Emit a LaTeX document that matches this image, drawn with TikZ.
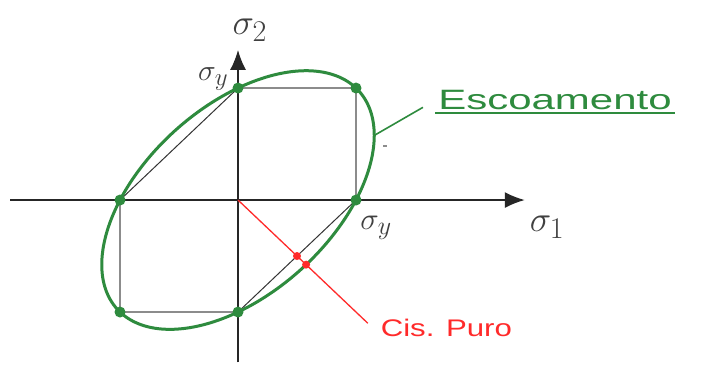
\documentclass[tikz,border=0pt]{standalone}
\usepackage{fontspec}
\setsansfont{Liberation Sans}
\usepackage{tikz}
\usetikzlibrary{positioning,arrows.meta}
\definecolor{yieldgreen}{HTML}{2E8B3E}
\definecolor{shearred}{HTML}{FF2A2A}
\definecolor{boxgray}{HTML}{8C8C8C}

\begin{document}
\begin{tikzpicture}[
    x=118pt, y=112pt,
    axis/.style={-{Latex[length=20pt,width=16pt]}, line width=1.5pt, draw=black!85},
    vtx/.style={circle, fill=yieldgreen, inner sep=0pt, minimum size=11pt},
    rdot/.style={circle, fill=shearred, inner sep=0pt, minimum size=8pt},
    sqedge/.style={draw=boxgray, line width=1.6pt},
    diag/.style={draw=black!80, line width=1pt},
    siglbl/.style={font=\Huge, text=black!75},
    smlbl/.style={font=\Huge, text=black!75}
]
    \path[fill=white] (-2.017,-1.482) rectangle (3.966,1.786);
    \useasboundingbox (-2.017,-1.482) rectangle (3.966,1.786);

    % axes
    \coordinate (xneg) at (-1.93,0);
    \coordinate (xpos) at (2.43,0);
    \coordinate (yneg) at (0,-1.45);
    \coordinate (ypos) at (0,1.34);
    \coordinate (orig) at (0,0);

    % hexagon vertices
    \coordinate (v1) at (1,0);
    \coordinate (v2) at (1,1);
    \coordinate (v3) at (0,1);
    \coordinate (v4) at (-1,0);
    \coordinate (v5) at (-1,-1);
    \coordinate (v6) at (0,-1);

    \draw[sqedge] (v3) -- (v2) -- (v1);
    \draw[sqedge] (v4) -- (v5) -- (v6);
    \draw[diag] (v4) -- (v3);
    \draw[diag] (v6) -- (v1);

    \draw[axis] (xneg) -- (xpos);
    \draw[axis] (yneg) -- (ypos);

    \node[siglbl] (s2) at (0.10,1.52) {\scalebox{1.45}{$\sigma_2$}};
    \node[siglbl] (s1) at (2.62,-0.24) {\scalebox{1.45}{$\sigma_1$}};
    \node[smlbl] (sy) at (1.17,-0.25) {\scalebox{1.25}{$\sigma_y$}};
    \node[smlbl] (sy2) at (-0.21,1.08) {\scalebox{1.2}{$\sigma_y$}};

    % von Mises ellipse
    \draw[yieldgreen, line width=3pt, smooth, samples=120, domain=0:360, variable=\t]
        plot ({cos(\t)-sin(\t)/sqrt(3)}, {cos(\t)+sin(\t)/sqrt(3)});

    \node[vtx] (d1) at (v1) {};
    \node[vtx] (d2) at (v2) {};
    \node[vtx] (d3) at (v3) {};
    \node[vtx] (d4) at (v4) {};
    \node[vtx] (d5) at (v5) {};
    \node[vtx] (d6) at (v6) {};

    % label escoamento
    \coordinate (yieldpt) at (1.155,0.577);
    \node[anchor=west, inner sep=3pt, text=yieldgreen, font=\sffamily\fontsize{28}{30}\selectfont] (esc) at (1.67,0.89) {\scalebox{1.5}[1]{Escoamento}};
    \draw[yieldgreen, line width=1.8pt] (esc.south west) -- (esc.south east);
    \draw[yieldgreen, line width=1.6pt, shorten >=14pt] (yieldpt) -- (esc.west);
    \node[fill=boxgray, minimum width=4pt, minimum height=2pt, inner sep=0pt] (speck) at (1.246,0.482) {};

    % pure shear
    \coordinate (shearend) at (1.1,-1.1);
    \draw[shearred, line width=1.3pt] (orig) -- (shearend);
    \node[rdot] (tr) at (0.5,-0.5) {};
    \node[rdot] (vm) at (0.577,-0.577) {};
    \node[anchor=west, text=shearred, font=\sffamily\fontsize{24}{26}\selectfont] (cis) at (1.18,-1.14) {\scalebox{1.3}[1]{Cis. Puro}};
\end{tikzpicture}
\end{document}
